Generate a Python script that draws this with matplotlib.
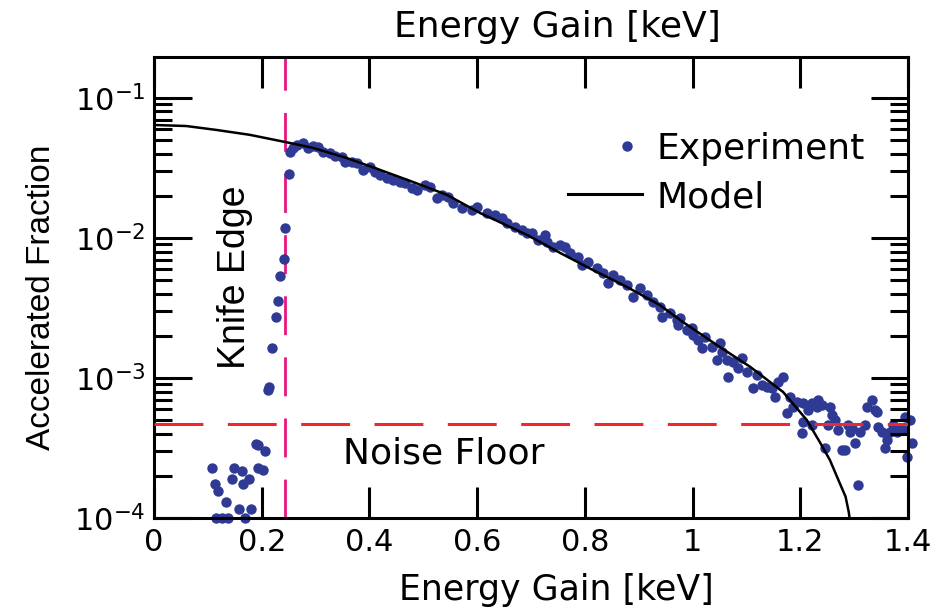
import numpy as np
import matplotlib
matplotlib.use('Agg')
import matplotlib.pyplot as plt
from matplotlib.lines import Line2D
from matplotlib.legend_handler import HandlerLine2D
from matplotlib.ticker import FixedLocator, NullFormatter, NullLocator

plt.rcParams['font.family'] = ['DejaVu Sans']
plt.rcParams['mathtext.fontset'] = 'dejavusans'

# measured accelerated fraction vs energy gain (keV)
exp_x = [0.108, 0.113, 0.115, 0.119, 0.126, 0.134, 0.137, 0.145, 0.149, 0.158,
         0.163, 0.165, 0.169, 0.176, 0.180, 0.189, 0.193, 0.193, 0.202, 0.206,
         0.2117, 0.2135, 0.219, 0.2265, 0.230, 0.234, 0.2414, 0.243, 0.2507,
         0.2525, 0.258, 0.2655, 0.2766, 0.286, 0.295, 0.3045, 0.3138, 0.3268, 0.336,
         0.349, 0.3546, 0.3676, 0.377, 0.388, 0.401, 0.410, 0.4196, 0.4326, 0.4437,
         0.4567, 0.466, 0.479, 0.488, 0.503, 0.5125, 0.5254, 0.5347, 0.546, 0.555,
         0.572, 0.590, 0.600, 0.618, 0.633, 0.646, 0.655, 0.670, 0.683, 0.6925,
         0.702, 0.713, 0.726, 0.730, 0.741, 0.754, 0.763, 0.772, 0.787, 0.795,
         0.806, 0.8225, 0.834, 0.843, 0.852, 0.865, 0.878, 0.889, 0.902, 0.915,
         0.9265, 0.9395, 0.943, 0.958, 0.971, 0.973, 0.9766, 0.9896, 0.999, 1.0007,
         1.010, 1.0175, 1.023, 1.036, 1.045, 1.051, 1.0546, 1.064, 1.0657, 1.075,
         1.084, 1.092, 1.101, 1.112, 1.12, 1.129, 1.138, 1.147, 1.153, 1.1585,
         1.168, 1.175, 1.181, 1.186, 1.194, 1.203, 1.205, 1.205, 1.214, 1.222,
         1.222, 1.231, 1.233, 1.240, 1.246, 1.251, 1.255, 1.259, 1.264, 1.270,
         1.277, 1.283, 1.2885, 1.292, 1.296, 1.3015, 1.307, 1.311, 1.320, 1.324,
         1.333, 1.339, 1.342, 1.344, 1.352, 1.357, 1.361, 1.3665, 1.372, 1.3795,
         1.385, 1.391, 1.394, 1.398, 1.4036, 1.407]
exp_y = [2.28e-4, 1.75e-4, 1.0e-4, 1.56e-4, 1.0e-4, 1.3e-4, 1.0e-4, 1.9e-4, 2.28e-4, 1.16e-4,
         2.17e-4, 1.75e-4, 1.0e-4, 1.9e-4, 1.16e-4, 3.38e-4, 3.33e-4, 2.28e-4, 2.2e-4, 3.01e-4,
         8.2e-4, 8.63e-4, 1.64e-3, 2.73e-3, 3.55e-3, 5.35e-3, 7.08e-3, 1.18e-2, 2.87e-2,
         4.11e-2, 4.39e-2, 4.62e-2, 4.77e-2, 4.4e-2, 4.54e-2, 4.47e-2, 4.11e-2, 4.05e-2, 3.85e-2,
         3.79e-2, 3.49e-2, 3.49e-2, 3.43e-2, 3.06e-2, 3.22e-2, 2.96e-2, 2.82e-2, 2.68e-2, 2.6e-2,
         2.51e-2, 2.47e-2, 2.28e-2, 2.2e-2, 2.39e-2, 2.31e-2, 1.93e-2, 2.03e-2, 1.96e-2, 1.78e-2,
         1.64e-2, 1.58e-2, 1.66e-2, 1.51e-2, 1.46e-2, 1.39e-2, 1.28e-2, 1.2e-2, 1.14e-2, 1.09e-2,
         1.09e-2, 9.68e-3, 1.05e-2, 9.36e-3, 8.63e-3, 8.91e-3, 8.63e-3, 7.81e-3, 7.31e-3, 6.41e-3,
         6.74e-3, 6.11e-3, 5.62e-3, 4.77e-3, 5.44e-3, 5.01e-3, 4.62e-3, 3.79e-3, 4.39e-3, 3.92e-3,
         3.49e-3, 3.22e-3, 2.73e-3, 2.91e-3, 2.6e-3, 2.39e-3, 2.68e-3, 2.2e-3, 2.28e-3, 2.03e-3,
         1.87e-3, 1.64e-3, 1.96e-3, 1.66e-3, 1.34e-3, 1.78e-3, 1.53e-3, 1.34e-3, 1.02e-3, 1.3e-3,
         1.18e-3, 1.39e-3, 1.1e-3, 8.48e-4, 1.05e-3, 8.91e-4, 8.63e-4, 8.48e-4, 7.31e-4, 9.36e-4,
         1.02e-3, 5.62e-4, 7.31e-4, 6.21e-4, 6.74e-4, 4.05e-4, 4.85e-4, 6.63e-4, 5.9e-4, 6.63e-4,
         4.62e-4, 6.21e-4, 6.97e-4, 6.41e-4, 3.16e-4, 4.62e-4, 6.21e-4, 5.44e-4, 5.01e-4, 4.25e-4,
         3.06e-4, 3.06e-4, 4.62e-4, 4.11e-4, 4.39e-4, 3.43e-4, 1.72e-4, 4.11e-4, 4.62e-4, 6.21e-4,
         6.97e-4, 5.9e-4, 5.72e-4, 4.47e-4, 4.11e-4, 3.16e-4, 3.61e-4, 4.11e-4, 4.62e-4, 4.11e-4,
         4.25e-4, 4.25e-4, 5.27e-4, 2.73e-4, 5.01e-4, 3.43e-4]

# model curve
model_x = [0.0, 0.06, 0.117, 0.178, 0.243, 0.295, 0.358, 0.420, 0.481, 0.544,
           0.605, 0.693, 0.754, 0.815, 0.878, 0.939, 0.982, 1.045, 1.107, 1.168,
           1.212, 1.237, 1.255, 1.273, 1.284, 1.290, 1.293]
model_y = [0.0641, 0.063, 0.0590, 0.0545, 0.0485, 0.0440, 0.0372, 0.0306, 0.0251, 0.0203,
           0.0151, 0.0105, 7.82e-3, 5.90e-3, 4.47e-3, 3.32e-3, 2.51e-3, 1.72e-3, 1.20e-3, 7.94e-4,
           5.01e-4, 3.44e-4, 2.59e-4, 1.78e-4, 1.42e-4, 1.1e-4, 9.0e-5]

knife_edge = 0.244
noise_floor = 4.69e-4

xticks = [0, 0.2, 0.4, 0.6, 0.8, 1.0, 1.2, 1.4]
xticklabels = ['0', '0.2', '0.4', '0.6', '0.8', '1', '1.2', '1.4']
yticks = [1e-4, 1e-3, 1e-2, 1e-1]
yticklabels = [r'$10^{-4}$', r'$10^{-3}$', r'$10^{-2}$', r'$10^{-1}$']
# 2..9 x 10^k minor marks on the log axis
minor_y = [m * 10.0 ** k for k in range(-4, -1 + 1) for m in range(2, 10)]

ylim = (1e-4, 0.196)
rect = [0.1638, 0.155, 0.8022, 0.752]
dot_color = '#2e3a94'


class DotAtRight(HandlerLine2D):
    # put the single legend marker near the right end of the handle
    def get_xdata(self, legend, xdescent, ydescent, width, height, fontsize):
        x = np.array([-xdescent + 0.8 * width])
        return x, x


fig = plt.figure(figsize=(9.4, 6.13), dpi=100)
ax = fig.add_axes(rect)

ax.plot(exp_x, exp_y, 'o', color=dot_color, ms=7.5, mec='none', zorder=2, clip_on=False)
ax.plot(model_x, model_y, '-', color='black', lw=1.8, zorder=3)
ax.plot([knife_edge, knife_edge], list(ylim), color='#e8157f', lw=2.0,
        dashes=(14, 8), zorder=1)
ax.plot([0, 1.4], [noise_floor, noise_floor], color='#f0282d', lw=2.2,
        dashes=(16, 8), zorder=4)

ax.set_yscale('log')
ax.set_xticks(xticks, xticklabels)
ax.set_yticks(yticks, yticklabels)
ax.xaxis.set_minor_locator(NullLocator())
ax.yaxis.set_minor_locator(NullLocator())
ax.set_xlim(0, 1.4)
ax.set_ylim(*ylim)
ax.tick_params(axis='both', which='both', direction='in', width=2.2,
               top=True, right=True, labelsize=22)
ax.tick_params(axis='x', which='major', length=22, pad=7)
ax.tick_params(axis='y', which='major', length=27, pad=6)
for sp in ax.spines.values():
    sp.set_linewidth(2.2)

ax.set_xlabel('Energy Gain [keV]', fontsize=25)
ax.xaxis.label.set_va('baseline')
ax.xaxis.set_label_coords(0.533, -0.178)
ax.set_ylabel('Accelerated Fraction', fontsize=24, family=['Liberation Sans', 'DejaVu Sans'])
ax.yaxis.set_label_coords(-0.129, 0.479)
ax.text(0.5345, 1.043, 'Energy Gain [keV]', transform=ax.transAxes,
        ha='center', va='baseline', fontsize=26)

ax.text(0.169, 5.2e-3, 'Knife Edge', rotation=90, rotation_mode='anchor',
        ha='center', va='baseline', fontsize=27, family=['Liberation Sans', 'DejaVu Sans'])
ax.text(0.351, 2.47e-4, 'Noise Floor', ha='left', va='baseline', fontsize=26)

handles = [Line2D([], [], ls='none', marker='o', ms=7.5, color=dot_color, mec='none'),
           Line2D([], [], color='black', lw=2.2)]
ax.legend(handles, ['Experiment', 'Model'], loc='upper left',
          bbox_to_anchor=(0.549, 0.838), frameon=False, fontsize=26,
          borderpad=0, borderaxespad=0, handlelength=2.05, handletextpad=0.39,
          labelspacing=0.4, handler_map={handles[0]: DotAtRight()})

# transparent companion axes that only carries the minor log ticks
axm = fig.add_axes(rect, frameon=False)
axm.patch.set_alpha(0)
axm.set_yscale('log')
axm.set_xticks([])
axm.yaxis.set_major_locator(NullLocator())
axm.yaxis.set_minor_locator(FixedLocator(minor_y))
axm.yaxis.set_minor_formatter(NullFormatter())
axm.set_xlim(0, 1.4)
axm.set_ylim(*ylim)
axm.tick_params(axis='y', which='minor', direction='in', length=13, width=2.2,
                left=True, right=True, labelleft=False, labelright=False)

fig.savefig('out.png', dpi=100)
